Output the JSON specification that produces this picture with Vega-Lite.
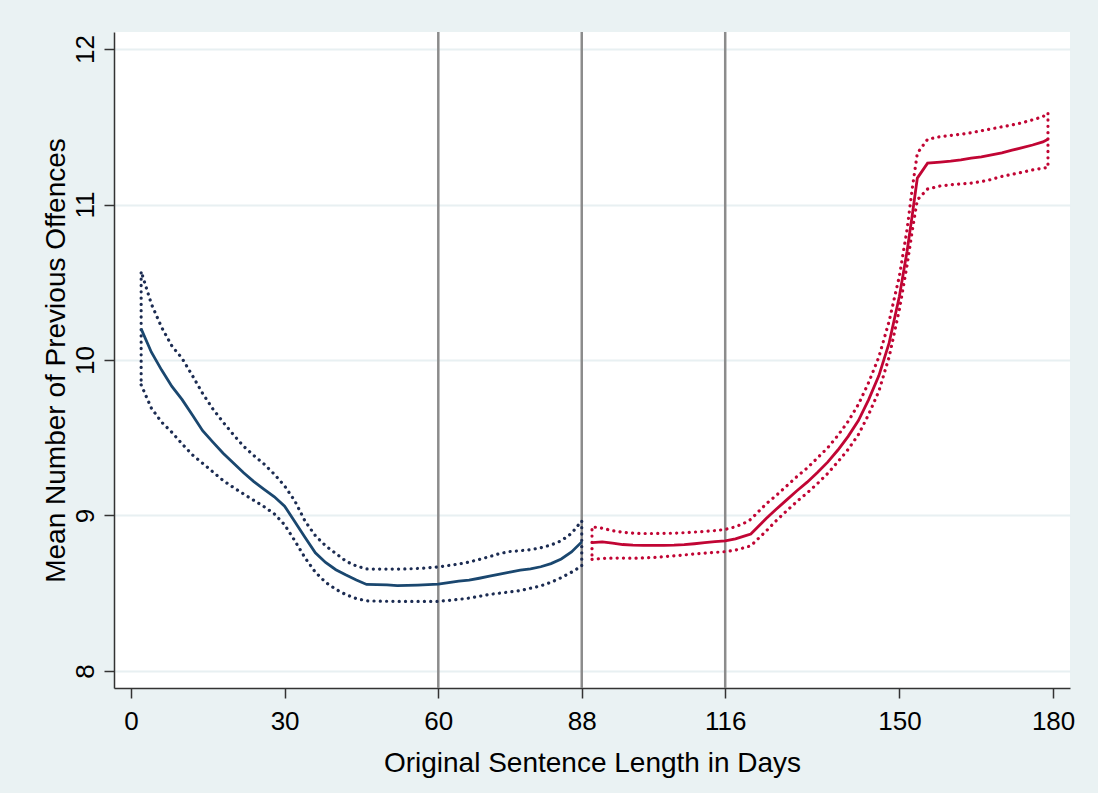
{
  "$schema": "https://vega.github.io/schema/vega-lite/v6.json",
  "width": 956,
  "height": 656,
  "autosize": {"type": "none"},
  "padding": {"left": 114, "top": 32, "right": 28, "bottom": 105},
  "background": "#EAF2F3",
  "config": {"view": {"fill": "white", "stroke": null}, "font": "Liberation Sans"},
  "resolve": {"scale": {"stroke": "independent"}},
  "datasets": {
    "xlines": [{"x": 60}, {"x": 88}, {"x": 116}],
    "curves": [
      {"group": "below", "x": 2, "mean": 10.2, "lo": 9.84, "hi": 10.57},
      {"group": "below", "x": 4, "mean": 10.05, "lo": 9.69, "hi": 10.36},
      {"group": "below", "x": 6, "mean": 9.935, "lo": 9.6, "hi": 10.21},
      {"group": "below", "x": 8, "mean": 9.83, "lo": 9.535, "hi": 10.09},
      {"group": "below", "x": 10, "mean": 9.745, "lo": 9.46, "hi": 10.01},
      {"group": "below", "x": 12, "mean": 9.646, "lo": 9.39, "hi": 9.9},
      {"group": "below", "x": 14, "mean": 9.545, "lo": 9.335, "hi": 9.785},
      {"group": "below", "x": 16, "mean": 9.472, "lo": 9.28, "hi": 9.685},
      {"group": "below", "x": 18, "mean": 9.4, "lo": 9.225, "hi": 9.6},
      {"group": "below", "x": 20, "mean": 9.337, "lo": 9.18, "hi": 9.52},
      {"group": "below", "x": 22, "mean": 9.275, "lo": 9.138, "hi": 9.445},
      {"group": "below", "x": 24, "mean": 9.218, "lo": 9.097, "hi": 9.385},
      {"group": "below", "x": 26, "mean": 9.168, "lo": 9.056, "hi": 9.33},
      {"group": "below", "x": 28, "mean": 9.12, "lo": 9.01, "hi": 9.265},
      {"group": "below", "x": 30, "mean": 9.06, "lo": 8.94, "hi": 9.19},
      {"group": "below", "x": 32, "mean": 8.96, "lo": 8.837, "hi": 9.093},
      {"group": "below", "x": 34, "mean": 8.858, "lo": 8.727, "hi": 8.963},
      {"group": "below", "x": 36, "mean": 8.76, "lo": 8.635, "hi": 8.87},
      {"group": "below", "x": 38, "mean": 8.698, "lo": 8.57, "hi": 8.805},
      {"group": "below", "x": 40, "mean": 8.651, "lo": 8.525, "hi": 8.755},
      {"group": "below", "x": 42, "mean": 8.617, "lo": 8.49, "hi": 8.705},
      {"group": "below", "x": 44, "mean": 8.585, "lo": 8.465, "hi": 8.675},
      {"group": "below", "x": 46, "mean": 8.556, "lo": 8.451, "hi": 8.656},
      {"group": "below", "x": 48, "mean": 8.555, "lo": 8.449, "hi": 8.655},
      {"group": "below", "x": 50, "mean": 8.554, "lo": 8.448, "hi": 8.655},
      {"group": "below", "x": 52, "mean": 8.549, "lo": 8.447, "hi": 8.655},
      {"group": "below", "x": 54, "mean": 8.55, "lo": 8.447, "hi": 8.656},
      {"group": "below", "x": 56, "mean": 8.552, "lo": 8.447, "hi": 8.659},
      {"group": "below", "x": 58, "mean": 8.555, "lo": 8.447, "hi": 8.663},
      {"group": "below", "x": 60, "mean": 8.558, "lo": 8.447, "hi": 8.669},
      {"group": "below", "x": 62, "mean": 8.568, "lo": 8.453, "hi": 8.678},
      {"group": "below", "x": 64, "mean": 8.577, "lo": 8.46, "hi": 8.688},
      {"group": "below", "x": 66, "mean": 8.584, "lo": 8.468, "hi": 8.7},
      {"group": "below", "x": 68, "mean": 8.596, "lo": 8.48, "hi": 8.717},
      {"group": "below", "x": 70, "mean": 8.609, "lo": 8.492, "hi": 8.735},
      {"group": "below", "x": 72, "mean": 8.623, "lo": 8.5, "hi": 8.755},
      {"group": "below", "x": 74, "mean": 8.636, "lo": 8.508, "hi": 8.768},
      {"group": "below", "x": 76, "mean": 8.648, "lo": 8.517, "hi": 8.773},
      {"group": "below", "x": 78, "mean": 8.657, "lo": 8.532, "hi": 8.78},
      {"group": "below", "x": 80, "mean": 8.67, "lo": 8.547, "hi": 8.792},
      {"group": "below", "x": 82, "mean": 8.69, "lo": 8.57, "hi": 8.81},
      {"group": "below", "x": 84, "mean": 8.72, "lo": 8.6, "hi": 8.837},
      {"group": "below", "x": 86, "mean": 8.765, "lo": 8.635, "hi": 8.885},
      {"group": "below", "x": 88, "mean": 8.83, "lo": 8.675, "hi": 8.965},
      {"group": "above", "x": 90, "mean": 8.825, "lo": 8.717, "hi": 8.927},
      {"group": "above", "x": 92, "mean": 8.83, "lo": 8.724, "hi": 8.918},
      {"group": "above", "x": 94, "mean": 8.822, "lo": 8.726, "hi": 8.902},
      {"group": "above", "x": 96, "mean": 8.813, "lo": 8.726, "hi": 8.892},
      {"group": "above", "x": 98, "mean": 8.809, "lo": 8.725, "hi": 8.886},
      {"group": "above", "x": 100, "mean": 8.808, "lo": 8.727, "hi": 8.884},
      {"group": "above", "x": 102, "mean": 8.808, "lo": 8.73, "hi": 8.884},
      {"group": "above", "x": 104, "mean": 8.808, "lo": 8.734, "hi": 8.885},
      {"group": "above", "x": 106, "mean": 8.809, "lo": 8.74, "hi": 8.886},
      {"group": "above", "x": 108, "mean": 8.812, "lo": 8.746, "hi": 8.889},
      {"group": "above", "x": 110, "mean": 8.818, "lo": 8.752, "hi": 8.893},
      {"group": "above", "x": 112, "mean": 8.825, "lo": 8.757, "hi": 8.897},
      {"group": "above", "x": 114, "mean": 8.831, "lo": 8.762, "hi": 8.902},
      {"group": "above", "x": 116, "mean": 8.837, "lo": 8.767, "hi": 8.91},
      {"group": "above", "x": 118, "mean": 8.85, "lo": 8.777, "hi": 8.927},
      {"group": "above", "x": 120, "mean": 8.87, "lo": 8.795, "hi": 8.955},
      {"group": "above", "x": 121, "mean": 8.88, "lo": 8.805, "hi": 8.975},
      {"group": "above", "x": 124, "mean": 8.98, "lo": 8.9, "hi": 9.075},
      {"group": "above", "x": 126, "mean": 9.041, "lo": 8.968, "hi": 9.13},
      {"group": "above", "x": 128, "mean": 9.1, "lo": 9.03, "hi": 9.19},
      {"group": "above", "x": 130, "mean": 9.159, "lo": 9.09, "hi": 9.25},
      {"group": "above", "x": 132, "mean": 9.214, "lo": 9.145, "hi": 9.305},
      {"group": "above", "x": 134, "mean": 9.277, "lo": 9.205, "hi": 9.37},
      {"group": "above", "x": 136, "mean": 9.343, "lo": 9.27, "hi": 9.435},
      {"group": "above", "x": 138, "mean": 9.421, "lo": 9.345, "hi": 9.515},
      {"group": "above", "x": 140, "mean": 9.509, "lo": 9.425, "hi": 9.605},
      {"group": "above", "x": 142, "mean": 9.61, "lo": 9.52, "hi": 9.715},
      {"group": "above", "x": 144, "mean": 9.745, "lo": 9.65, "hi": 9.855},
      {"group": "above", "x": 146, "mean": 9.9, "lo": 9.8, "hi": 10.02},
      {"group": "above", "x": 148, "mean": 10.11, "lo": 10.02, "hi": 10.25},
      {"group": "above", "x": 150, "mean": 10.41, "lo": 10.325, "hi": 10.54},
      {"group": "above", "x": 151.5, "mean": 10.7, "lo": 10.61, "hi": 10.84},
      {"group": "above", "x": 152.5, "mean": 10.93, "lo": 10.83, "hi": 11.1},
      {"group": "above", "x": 153.5, "mean": 11.17, "lo": 11.03, "hi": 11.33},
      {"group": "above", "x": 155.5, "mean": 11.266, "lo": 11.1, "hi": 11.42},
      {"group": "above", "x": 158, "mean": 11.273, "lo": 11.12, "hi": 11.437},
      {"group": "above", "x": 160, "mean": 11.279, "lo": 11.127, "hi": 11.445},
      {"group": "above", "x": 162, "mean": 11.287, "lo": 11.133, "hi": 11.452},
      {"group": "above", "x": 164, "mean": 11.298, "lo": 11.138, "hi": 11.462},
      {"group": "above", "x": 166, "mean": 11.307, "lo": 11.148, "hi": 11.475},
      {"group": "above", "x": 168, "mean": 11.32, "lo": 11.162, "hi": 11.487},
      {"group": "above", "x": 170, "mean": 11.333, "lo": 11.181, "hi": 11.5},
      {"group": "above", "x": 172, "mean": 11.35, "lo": 11.195, "hi": 11.512},
      {"group": "above", "x": 174, "mean": 11.366, "lo": 11.208, "hi": 11.527},
      {"group": "above", "x": 176, "mean": 11.383, "lo": 11.223, "hi": 11.545},
      {"group": "above", "x": 178, "mean": 11.403, "lo": 11.234, "hi": 11.565},
      {"group": "above", "x": 179, "mean": 11.42, "lo": 11.238, "hi": 11.59}
    ]
  },
  "encoding": {
    "x": {
      "field": "x",
      "type": "quantitative",
      "scale": {"domain": [-3.3, 183.3], "nice": false, "zero": false},
      "axis": {
        "title": "Original Sentence Length in Days",
        "values": [0, 30, 60, 88, 116, 150, 180],
        "grid": false,
        "domainColor": "#333333",
        "domainWidth": 1.5,
        "tickColor": "#333333",
        "tickWidth": 1.5,
        "tickSize": 10,
        "labelFontSize": 26,
        "labelColor": "#000000",
        "labelPadding": 10,
        "labelFlush": false,
        "labelOverlap": false,
        "titleFontSize": 28,
        "titleFontWeight": "normal",
        "titleColor": "#000000",
        "titlePadding": 15
      }
    }
  },
  "layer": [
    {
      "data": {"name": "xlines"},
      "mark": {"type": "rule", "color": "#8c8c8c", "strokeWidth": 2.5},
      "encoding": {}
    },
    {
      "data": {"name": "curves"},
      "mark": {"type": "area", "fill": "transparent", "fillOpacity": 0, "strokeWidth": 3.2, "strokeDash": [0.1, 6.2], "strokeCap": "round"},
      "encoding": {
        "y": {
          "field": "lo",
          "type": "quantitative",
          "title": "Mean Number of Previous Offences",
          "scale": {"domain": [7.89, 12.11], "nice": false, "zero": false},
          "axis": {
            "values": [8, 9, 10, 11, 12],
            "format": "d",
            "grid": true,
            "gridColor": "#E8F0F2",
            "gridWidth": 2,
            "domainColor": "#333333",
            "domainWidth": 1.5,
            "tickColor": "#333333",
            "tickWidth": 1.5,
            "tickSize": 10,
            "labelFontSize": 26,
            "labelColor": "#000000",
            "labelAngle": 270,
            "labelAlign": "center",
            "labelBaseline": "bottom",
            "labelPadding": 6,
            "labelFlush": false,
            "labelOverlap": false,
            "titleFontSize": 28,
            "titleFontWeight": "normal",
            "titleColor": "#000000",
            "titlePadding": 2
          }
        },
        "y2": {"field": "hi"},
        "stroke": {
          "field": "group",
          "type": "nominal",
          "scale": {"domain": ["below", "above"], "range": ["#1c2c52", "#c10534"]},
          "legend": null
        },
        "detail": {"field": "group"}
      }
    },
    {
      "data": {"name": "curves"},
      "mark": {"type": "line", "strokeWidth": 2.8},
      "encoding": {
        "y": {"field": "mean", "type": "quantitative", "title": "Mean Number of Previous Offences"},
        "stroke": {
          "field": "group",
          "type": "nominal",
          "scale": {"domain": ["below", "above"], "range": ["#1a476f", "#c10534"]},
          "legend": null
        },
        "detail": {"field": "group"}
      }
    }
  ]
}
